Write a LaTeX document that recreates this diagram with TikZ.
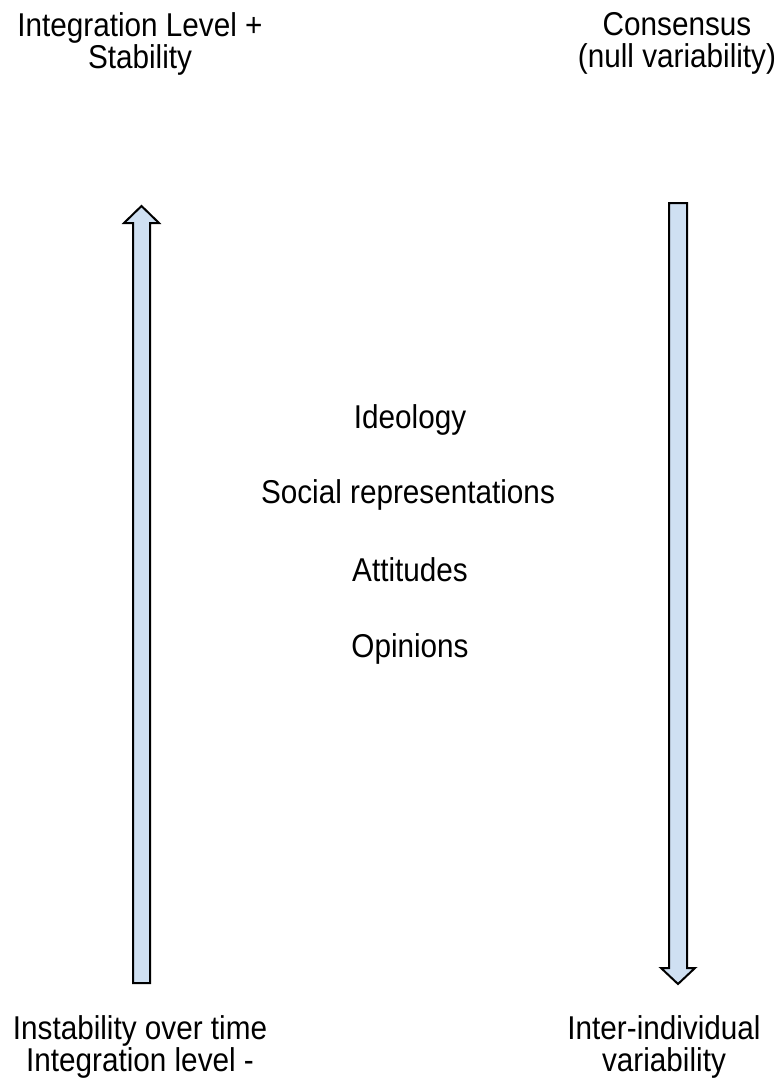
\documentclass[tikz,border=0pt]{standalone}
\usepackage{fontspec}
\setmainfont{Liberation Sans}[FakeStretch=0.9]
\definecolor{arrowfill}{RGB}{207,224,242}
\begin{document}
\begin{tikzpicture}[x=0.75pt,y=-0.75pt,
  lbl/.style={inner sep=0pt, align=center, font=\fontsize{24.75}{24.4}\selectfont},
  blockarrow/.style={draw=black, line width=1.5pt, fill=arrowfill, line join=miter}]
\useasboundingbox (0,0) rectangle (782,1088);
% block arrows
\draw[blockarrow] (133,983) -- (133,223) -- (124,223) -- (141.5,206) -- (159,223) -- (150,223) -- (150,983) -- cycle;
\draw[blockarrow] (669,203) -- (687,203) -- (687,968) -- (695,968) -- (678,984) -- (661,968) -- (669,968) -- cycle;
% corner labels
\node[lbl, anchor=north] (tl) at (140,12) {Integration Level +\\Stability};
\node[lbl, anchor=north] (tr) at (677,12) {Consensus\\(null variability)};
\node[lbl, anchor=north] (bl) at (140,1015) {Instability over time\\Integration level -};
\node[lbl, anchor=north] (br) at (664,1015) {Inter-individual\\variability};
% middle labels
\node[lbl, anchor=base] (ideo) at (410,428) {Ideology};
\node[lbl, anchor=base] (soc) at (408,503) {Social representations};
\node[lbl, anchor=base] (att) at (410,581) {Attitudes};
\node[lbl, anchor=base] (opi) at (410,657) {Opinions};
\end{tikzpicture}
\end{document}
